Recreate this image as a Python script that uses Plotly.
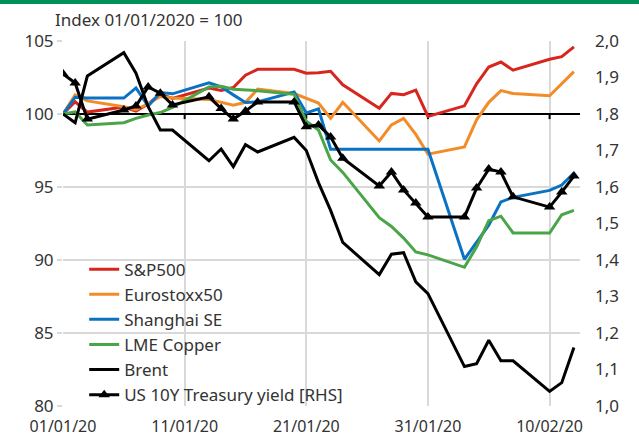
import plotly.graph_objects as go

dates = ["2020-01-01", "2020-01-02", "2020-01-03", "2020-01-06", "2020-01-07", "2020-01-08",
         "2020-01-09", "2020-01-10", "2020-01-13", "2020-01-14", "2020-01-15", "2020-01-16",
         "2020-01-17", "2020-01-20", "2020-01-21", "2020-01-22", "2020-01-23", "2020-01-24",
         "2020-01-27", "2020-01-28", "2020-01-29", "2020-01-30", "2020-01-31", "2020-02-03",
         "2020-02-04", "2020-02-05", "2020-02-06", "2020-02-07", "2020-02-10", "2020-02-11",
         "2020-02-12"]

sp500 = [100, 100.84, 100.13, 100.48, 100.20, 100.69, 101.36, 101.07, 101.78, 101.62, 101.81,
         102.66, 103.06, 103.06, 102.79, 102.82, 102.93, 102.00, 100.40, 101.41, 101.32, 101.64,
         99.84, 100.56, 102.07, 103.22, 103.56, 103.00, 103.75, 103.93, 104.60]

eurostoxx = [100, 101.3, 100.9, 100.5, 100.3, 100.7, 101.2, 101.1, 101.0, 100.8, 100.6, 100.8,
             101.7, 101.4, 101.1, 100.75, 99.7, 100.8, 98.15, 99.25, 99.7, 98.6, 97.25, 97.75,
             99.6, 100.8, 101.6, 101.4, 101.25, 102.1, 102.9]

shanghai = [100, 101.15, 101.1, 101.09, 101.79, 100.55, 101.47, 101.38, 102.14, 101.86, 101.31,
            100.79, 100.83, 101.5, 100.07, 100.35, 97.59, 97.59, 97.59, 97.59, 97.59, 97.59,
            97.59, 90.05, 91.25, 92.39, 93.98, 94.29, 94.77, 95.13, 95.96]

copper = [100, 100.15, 99.25, 99.4, 99.7, 99.93, 100.1, 100.45, 101.85, 101.9, 101.7, 101.65,
          101.6, 101.35, 99.5, 98.9, 96.85, 96.0, 92.9, 92.3, 91.5, 90.55, 90.35, 89.5, 90.9,
          92.7, 93.0, 91.85, 91.85, 93.1, 93.4]

brent = [100, 99.4, 102.6, 104.2, 102.8, 100.5, 98.9, 98.9, 96.8, 97.6, 96.4, 97.9, 97.4, 98.4,
         97.5, 95.3, 93.4, 91.2, 89.0, 90.4, 90.5, 88.5, 87.7, 82.7, 82.9, 84.5, 83.1, 83.1,
         81.0, 81.6, 84.0]

us10y = [1.91, 1.885, 1.786, 1.811, 1.822, 1.874, 1.857, 1.825, 1.847, 1.815, 1.786, 1.808,
         1.833, 1.833, 1.765, 1.77, 1.737, 1.679, 1.603, 1.641, 1.592, 1.556, 1.518, 1.518,
         1.597, 1.649, 1.641, 1.573, 1.545, 1.586, 1.63]

x_range = ["2020-01-01", "2020-02-12 12:00"]
xtick_vals = ["2020-01-01", "2020-01-11", "2020-01-21", "2020-01-31", "2020-02-10"]
xtick_text = ["01/01/20", "11/01/20", "21/01/20", "31/01/20", "10/02/20"]

FONT = "Noto Sans"
TXT = "#333333"
GRID = "#d9d9d9"

fig = go.Figure()
series = [
    ("S&P500", sp500, "#D7261E"),
    ("Eurostoxx50", eurostoxx, "#F28C28"),
    ("Shanghai SE", shanghai, "#0A72C2"),
    ("LME Copper", copper, "#4AA548"),
    ("Brent", brent, "#000000"),
]
for name, vals, col in series:
    fig.add_trace(go.Scatter(x=dates, y=vals, name=name, mode="lines",
                             line=dict(color=col, width=3)))
fig.add_trace(go.Scatter(x=dates, y=us10y, name="US 10Y Treasury yield [RHS]", mode="lines+markers",
                         yaxis="y2", line=dict(color="#000000", width=3),
                         marker=dict(symbol="triangle-up", size=10, color="#000000")))

shapes = [
    dict(type="line", xref="x", yref="y", x0=x_range[0], x1=x_range[1], y0=100, y1=100,
         line=dict(color="#000000", width=2), layer="between"),
    dict(type="rect", xref="paper", yref="paper", x0=-0.2, x1=1.2,
         y0=1 + 37 / 365, y1=1 + 42 / 365, fillcolor="#00915A", line=dict(width=0)),
]
for tv in xtick_vals[1:]:
    shapes.append(dict(type="line", xref="x", yref="y", x0=tv, x1=tv, y0=100, y1=99.65,
                       line=dict(color="#000000", width=2), layer="between"))

fig.update_layout(
    width=639, height=438,
    margin=dict(l=63, r=59, t=41, b=32, autoexpand=False),
    paper_bgcolor="white", plot_bgcolor="white",
    separators=", ",
    font=dict(family=FONT, size=17, color=TXT),
    title=dict(text="Index 01/01/2020 = 100", x=55 / 639, xanchor="left", xref="container",
               y=1 - 20 / 438, yanchor="middle", yref="container",
               font=dict(family=FONT, size=17, color=TXT)),
    xaxis=dict(type="date", range=x_range, automargin=False,
               tickvals=xtick_vals, ticktext=xtick_text, showgrid=True, gridcolor=GRID,
               gridwidth=2, zeroline=False, showline=False, ticks="", ticklabelstandoff=9,
               tickfont=dict(family=FONT, size=16, color=TXT)),
    yaxis=dict(range=[80, 105], dtick=5, showgrid=True, gridcolor=GRID, gridwidth=2,
               automargin=False,
               zeroline=False, showline=False, ticks="outside", ticklen=5, tickcolor=GRID,
               tickwidth=2, tickfont=dict(family=FONT, size=17, color=TXT)),
    yaxis2=dict(range=[1.0, 2.0], dtick=0.1, tickformat=".1f", overlaying="y", side="right",
                showgrid=False, zeroline=False, showline=False, ticks="", automargin=False,
                ticklabelstandoff=14, tickfont=dict(family=FONT, size=17, color=TXT)),
    legend=dict(x=0.041, y=0.423, xanchor="left", yanchor="top", bgcolor="rgba(0,0,0,0)",
                font=dict(family=FONT, size=17, color=TXT), tracegroupgap=0),
    shapes=shapes,
    showlegend=True,
)

fig.write_html("out.html", config={"displayModeBar": False},
               post_script="document.body.style.margin='0';document.body.style.padding='0';")
